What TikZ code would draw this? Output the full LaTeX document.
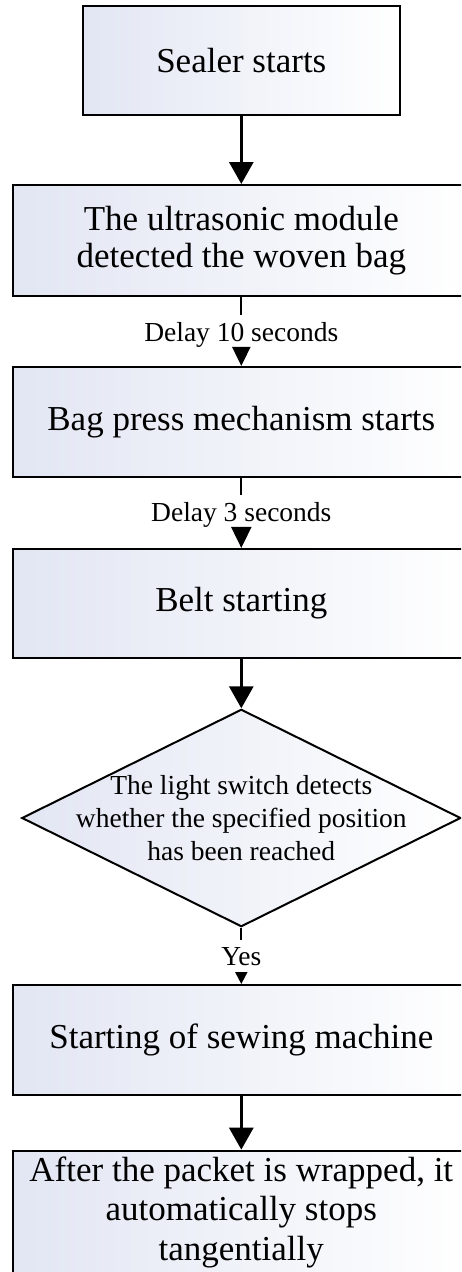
\documentclass[tikz,border=0pt]{standalone}
\usepackage{fontspec}
\setmainfont{Liberation Serif}
\usetikzlibrary{arrows.meta,shapes.geometric}
\definecolor{lfill}{RGB}{226,230,243}
\begin{document}
\begin{tikzpicture}[x=1pt,y=-1pt,
  box/.style={draw=black, line width=2pt, left color=lfill, right color=white,
    inner sep=0pt, align=center, font=\fontsize{35}{36.6}\selectfont},
  decision/.style={diamond, draw=black, line width=2pt, left color=lfill, right color=white,
    minimum width=439pt, minimum height=217.4pt, inner sep=0pt},
  mainarrow/.style={line width=3pt, -{Triangle[width=24pt,length=22pt]}},
  conn/.style={line width=2pt},
  lbl/.style={inner sep=0pt, font=\fontsize{27.5}{30}\selectfont},
  dtext/.style={inner sep=0pt, align=center, font=\fontsize{27.5}{32.7}\selectfont}
]
\useasboundingbox (0,0) rectangle (461,1272);
\clip (0,0) rectangle (461,1272);

\node[box, minimum width=317.3pt, minimum height=109pt] (b1) at (241.3,60.5) {Sealer starts};
\node[box, minimum width=457.2pt, minimum height=111pt] (b2) at (241.3,240.5)
  {The ultrasonic module\\detected the woven bag};
\node[box, minimum width=457.2pt, minimum height=109.7pt] (b3) at (241.3,421.8) {Bag press mechanism starts};
\node[box, minimum width=457.2pt, minimum height=108.7pt] (b4) at (241.3,603.3) {Belt starting};
\node[decision] (d) at (241.3,818) {};
\node[dtext] (dt) at (d.center) {The light switch detects\\whether the specified position\\has been reached};
\node[box, minimum width=457.2pt, minimum height=110pt] (b5) at (241.3,1040) {Starting of sewing machine};
\node[box, minimum width=457.2pt, minimum height=123.3pt, font=\fontsize{35}{39.7}\selectfont] (b6) at (241.3,1212.3)
  {After the packet is wrapped, it\\automatically stops\\tangentially};

% labels on connectors
\node[lbl, anchor=base, text height=26.7pt, text depth=6.3pt] (l1) at (241.3,341.7) {Delay 10 seconds};
\node[lbl, anchor=base, text height=26.7pt, text depth=6.3pt] (l2) at (241.3,521.7) {Delay 3 seconds};
\node[lbl, anchor=base, text height=25pt, text depth=8pt] (l3) at (241.3,965) {Yes};

% connectors
\draw[mainarrow] (b1.south) -- (b2.north);
\draw[conn] (b2.south) -- (l1.north);
\draw[conn, -{Triangle[width=18pt,length=19pt]}] (l1.south) -- (b3.north);
\draw[conn] (b3.south) -- (l2.north);
\draw[conn, -{Triangle[width=20pt,length=21pt]}] (l2.south) -- (b4.north);
\draw[mainarrow] (b4.south) -- (d.north);
\draw[conn] (d.south) -- (l3.north);
\draw[conn, -{Triangle[width=12pt,length=12pt]}] (l3.south) -- (b5.north);
\draw[mainarrow] (b5.south) -- (b6.north);
\end{tikzpicture}
\end{document}
